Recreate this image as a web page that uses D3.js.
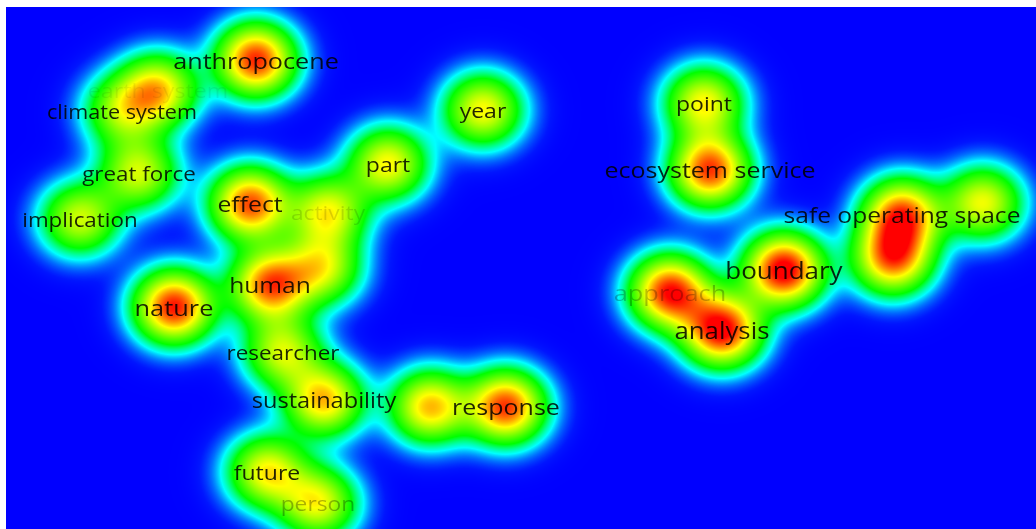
<!DOCTYPE html>
<html>
<head>
<meta charset="utf-8">
<script src="https://cdn.jsdelivr.net/npm/d3@7"></script>
<style>
  html, body { margin: 0; padding: 0; background: #fff; }
  #chart { position: relative; width: 1036px; height: 529px; overflow: hidden; }
  #chart canvas { position: absolute; left: 6px; top: 7px; }
  #chart svg { position: absolute; left: 0; top: 0; }
</style>
</head>
<body>
<div id="chart"></div>
<script>
// Term map: item labels, layout coordinates (0-100 map units) and occurrence counts.
// Items with an empty label take part in the density but have no label drawn.
const terms = [
  "anthropocene", "earth system", "climate system", "great force", "implication",
  "effect", "activity", "part", "year", "nature", "human", "",
  "researcher", "sustainability", "", "response", "future", "person",
  "point", "ecosystem service", "safe operating space", "", "",
  "boundary", "approach", "analysis"
];
const mapX = [
  24.27, 14.76, 11.26, 12.91, 7.18,
  23.69, 31.26, 37.09, 46.31, 16.31, 25.63, 30.68,
  26.89, 30.87, 41.17, 48.54, 25.34, 30.29,
  67.77, 68.35, 86.99, 86.10, 94.85,
  75.53, 64.47, 69.51
];
const mapY = [
  10.15, 15.90, 19.92, 31.80, 40.61,
  37.74, 39.27, 30.08, 19.73, 57.47, 53.26, 50.00,
  66.09, 75.29, 76.63, 76.63, 89.08, 95.02,
  18.39, 31.23, 39.85, 48.20, 37.55,
  50.38, 54.60, 61.88
];
const occurrences = [
  36, 26, 18, 22, 22,
  34, 24, 25, 25, 37, 33, 22,
  22, 28, 28, 35, 25, 24,
  25, 35, 33, 32, 24,
  40, 37, 39
];

// Labels that collide with neighbours are drawn faded.
const labelAlpha = { "earth system": 0.07, "activity": 0.14, "approach": 0.25, "person": 0.3 };

const width = 1036, height = 529, marginLeft = 6, marginTop = 7;
const pw = width - marginLeft, ph = height - marginTop;

const x = d3.scaleLinear().domain([0, 100]).range([0, pw]);
const y = d3.scaleLinear().domain([0, 100]).range([0, ph]);
const fontSize = d3.scaleLinear().domain([18, 40]).range([19.3, 23.2]);
const level = d3.scaleLinear().domain([0, 39]).range([0, 1]).clamp(true);
const color = d3.scaleLinear()
  .domain([0, 0.02, 0.065, 0.13, 0.27, 0.64, 0.97])
  .range(["#0000ff", "#0014ff", "#0070ff", "#00ffff", "#00ff00", "#ffff00", "#ff0000"])
  .clamp(true);

const items = terms.map((t, i) => ({ label: t, px: x(mapX[i]), py: y(mapY[i]), w: occurrences[i] }));

// Kernel density over the map (Gaussian kernel, bandwidth in pixels)
const sigmaX = 26, sigmaY = 24;
const grid = new Float32Array(pw * ph);
const reachX = Math.ceil(sigmaX * 4.5), reachY = Math.ceil(sigmaY * 4.5);
items.forEach(d => {
  const x0 = Math.max(0, Math.floor(d.px - reachX)), x1 = Math.min(pw - 1, Math.ceil(d.px + reachX));
  const y0 = Math.max(0, Math.floor(d.py - reachY)), y1 = Math.min(ph - 1, Math.ceil(d.py + reachY));
  const kx = 1 / (2 * sigmaX * sigmaX), ky = 1 / (2 * sigmaY * sigmaY);
  for (let j = y0; j <= y1; j++) {
    const dy = j + 0.5 - d.py;
    for (let i = x0; i <= x1; i++) {
      const dx = i + 0.5 - d.px;
      grid[j * pw + i] += d.w * Math.exp(-dx * dx * kx - dy * dy * ky);
    }
  }
});

// Colour lookup table
const lut = d3.range(1024).map(i => d3.rgb(color(i / 1023)));

const chart = d3.select("#chart");
const canvas = chart.append("canvas").attr("width", pw).attr("height", ph).node();
const ctx = canvas.getContext("2d");
const img = ctx.createImageData(pw, ph);
for (let p = 0; p < grid.length; p++) {
  const c = lut[Math.round(level(grid[p]) * 1023)];
  img.data[p * 4] = c.r;
  img.data[p * 4 + 1] = c.g;
  img.data[p * 4 + 2] = c.b;
  img.data[p * 4 + 3] = 255;
}
ctx.putImageData(img, 0, 0);

// Labels
const svg = chart.append("svg").attr("width", width).attr("height", height);
const g = svg.append("g").attr("transform", `translate(${marginLeft},${marginTop})`);
g.selectAll("text")
  .data(items.filter(d => d.label))
  .join("text")
  .attr("transform", d => `translate(${d.px},${d.py}) scale(1.12,1)`)
  .attr("text-anchor", "middle")
  .attr("dominant-baseline", "central")
  .attr("font-family", "'Open Sans', sans-serif")
  .attr("font-size", d => fontSize(d.w))
  .attr("fill", "#000")
  .attr("fill-opacity", d => labelAlpha[d.label] !== undefined ? labelAlpha[d.label] : 0.85)
  .text(d => d.label);
</script>
</body>
</html>
